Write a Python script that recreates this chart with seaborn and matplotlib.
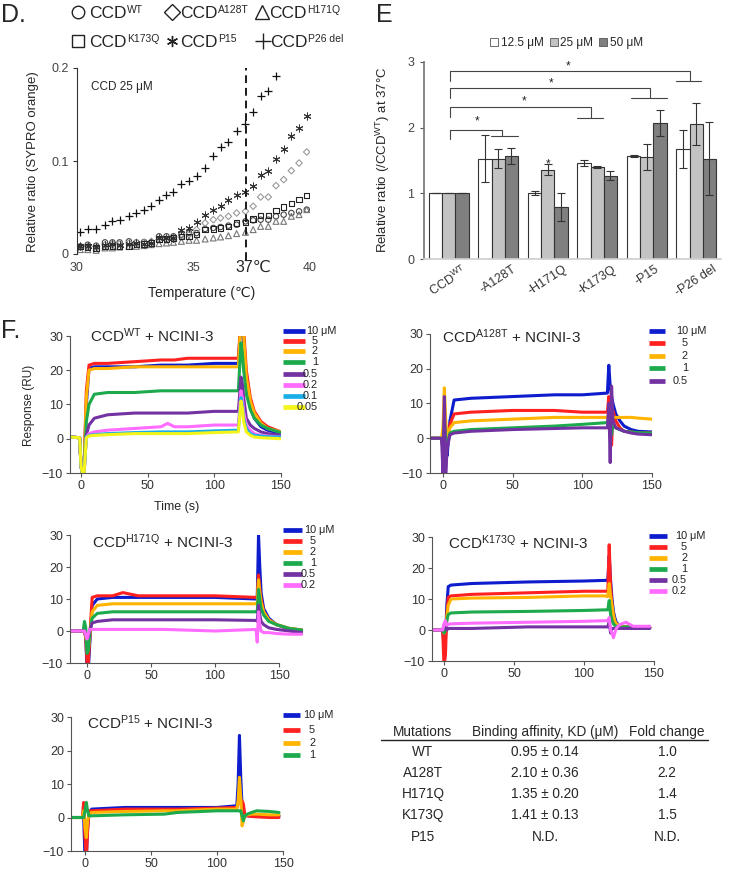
import numpy as np
import pandas as pd
import matplotlib
matplotlib.use("Agg")
import matplotlib.pyplot as plt
from matplotlib.lines import Line2D
from matplotlib.patches import Patch
import seaborn as sns

sns.set_theme(style="white")
plt.rcParams['font.family'] = ['Liberation Sans', 'DejaVu Sans']
plt.rcParams['mathtext.fontset'] = 'custom'
plt.rcParams['mathtext.rm'] = 'Liberation Sans'
plt.rcParams['mathtext.it'] = 'Liberation Sans:italic'
plt.rcParams['mathtext.bf'] = 'Liberation Sans:bold'

# ---------------- panel D : thermal shift (SYPRO orange) ----------------
temps = [30.14, 30.46, 30.82, 31.2, 31.52, 31.83, 32.23, 32.55, 32.88, 33.19,
         33.52, 33.84, 34.14, 34.48, 34.81, 35.13, 35.5, 35.85, 36.16, 36.5,
         36.85, 37.23, 37.56, 37.88, 38.21, 38.54, 38.87, 39.2, 39.53, 39.86]
d_wt = [0.0082, 0.01, 0.009, 0.0125, 0.0125, 0.0125, 0.0136, 0.0125, 0.0129, 0.0129,
        0.019, 0.019, 0.019, 0.0208, 0.0226, 0.0226, 0.0269, 0.028, 0.029, 0.0305,
        0.0315, 0.0351, 0.0362, 0.0369, 0.0369, 0.0405, 0.0423, 0.0441, 0.0459, 0.0477]
d_a128t = [0.0075, 0.0082, 0.0082, 0.01, 0.0108, 0.0108, 0.0118, 0.0125, 0.0125, 0.0136,
           0.0154, 0.0154, 0.0161, 0.0183, 0.0208, 0.0262, 0.0333, 0.0369, 0.0387, 0.0405,
           0.0441, 0.0459, 0.0513, 0.0613, 0.0613, 0.0735, 0.08, 0.0896, 0.0978, 0.1097]
d_h171q = [0.0047, 0.0047, 0.0039, 0.0065, 0.0065, 0.0075, 0.0082, 0.0082, 0.009, 0.01,
           0.0111, 0.0118, 0.0125, 0.0136, 0.0147, 0.0147, 0.0161, 0.0172, 0.0183, 0.0197,
           0.0219, 0.0233, 0.0262, 0.0297, 0.0297, 0.0351, 0.0351, 0.0405, 0.0423, 0.0477]
d_k173q = [0.0082, 0.0075, 0.0065, 0.0082, 0.0082, 0.0082, 0.0082, 0.01, 0.0108, 0.0118,
           0.0161, 0.0161, 0.0172, 0.019, 0.019, 0.0208, 0.0262, 0.0269, 0.028, 0.0297,
           0.0333, 0.034, 0.0376, 0.0412, 0.0412, 0.047, 0.0505, 0.0541, 0.0584, 0.0627]
d_p15 = [0.0082, 0.009, 0.0075, 0.01, 0.0108, 0.01, 0.0108, 0.0118, 0.0108, 0.0118,
         0.0172, 0.0168, 0.0172, 0.0262, 0.028, 0.034, 0.0423, 0.0477, 0.0513, 0.0584,
         0.0638, 0.0663, 0.0728, 0.0853, 0.0889, 0.1025, 0.1133, 0.1265, 0.1355, 0.148]
d_p26del = [0.0237, 0.0269, 0.0269, 0.0315, 0.0358, 0.0369, 0.0412, 0.0441, 0.0477, 0.0513,
            0.0584, 0.0638, 0.0667, 0.0756, 0.0781, 0.0835, 0.0925, 0.105, 0.1147, 0.1204,
            0.1319, 0.1401, 0.1523, 0.1695, 0.1749, 0.191]
d_line_temp = 37.25

# ---------------- panel E : ratio at 37 C ----------------
e_groups = ['CCD$^{\\mathrm{WT}}$', '-A128T', '-H171Q', '-K173Q', '-P15', '-P26 del']
e_conc = ['12.5 μM', '25 μM', '50 μM']
e_mean_125 = [1.0, 1.53, 1.0, 1.46, 1.57, 1.67]
e_mean_25 = [1.0, 1.53, 1.36, 1.40, 1.55, 2.05]
e_mean_50 = [1.0, 1.57, 0.79, 1.27, 2.07, 1.53]
e_err_125 = [0, 0.36, 0.03, 0.05, 0.01, 0.29]
e_err_25 = [0, 0.14, 0.08, 0.01, 0.20, 0.32]
e_err_50 = [0, 0.12, 0.21, 0.07, 0.20, 0.56]

# ---------------- panel F : SPR sensorgrams ----------------
spr_labels = ['10', '5', '2', '1', '0.5', '0.2', '0.1', '0.05']
spr_colors = ['#0d1ccc', '#ff2020', '#ffb400', '#1caa4c', '#7232a2', '#ff6cff', '#1aaee8', '#f4f41a']

t_wt = [-8, -1, 0, 2, 4, 6, 10, 20, 40, 60, 65, 70, 80, 100, 118, 120, 121, 122, 124, 127, 130, 135, 140, 150]
r_wt = [
    [0.5, 0.3, -8, -12, 10, 20.5, 21, 21, 21, 21.5, 21.5, 21.5, 21.5, 22, 22, 35, 35, 28, 16, 9, 6, 3.5, 2.5, 1.5],
    [0.5, 0.3, -8, -12, 14, 21.5, 22, 22, 22.5, 23, 23, 23, 23.5, 23.5, 23.5, 35, 35, 32, 20, 12, 8, 5, 3.5, 2],
    [0.5, 0.3, -8, -12, 12, 20, 20.5, 20.5, 21, 21, 21, 21, 21, 21, 21, 35, 35, 30, 18, 11, 7.5, 4.5, 3, 2],
    [0.5, 0.3, -8, -12, 5, 10, 13, 13.5, 13.5, 14, 14, 14, 14, 14, 14, 28, 25, 20, 13, 8.5, 6, 4, 3, 1.8],
    [0.5, 0.3, -8, -12, 1, 4, 6, 7, 7.5, 7.5, 7.5, 7.5, 7.5, 8, 8, 18, 16, 12, 6, 4, 3, 2, 1.5, 1],
    [0.5, 0.3, -8, -12, 0.5, 1.5, 2, 2.5, 3, 3.5, 4.5, 3.5, 3.5, 4, 4, 14, 12, 8, 4, 2.5, 1.5, 1, 0.8, 0.5],
    [0.5, 0.3, -8, -12, 0.5, 1, 1.2, 1.5, 1.8, 2, 2, 2, 2, 2.3, 2.5, 12, 10, 6, 3, 1.5, 1, 0.8, 0.6, 0.5],
    [0.5, 0.3, -8, -12, 0.3, 0.8, 1, 1.2, 1.5, 1.5, 1.5, 1.5, 1.5, 1.8, 2, 11, 9, 5, 2, 1, 0.5, 0.3, 0.2, 0],
]
t_a128t = [-9, -1, 0, 1, 2, 3, 5, 8, 20, 50, 80, 100, 118, 119, 120, 121, 122, 124, 127, 130, 135, 140, 150]
r_a128t = [
    [0, 0, -3, 2, -2, -5, 5, 11, 11.5, 12, 12.5, 12.5, 13, 21, 15, 12, 10, 7, 5, 3.5, 2.5, 2, 1.8],
    [0, 0, -3, 3, 2, 0, 4, 7, 7.5, 8, 8, 7.5, 7.5, 12, 5, -2, 8, 5, 3, 2, 1.8, 1.6, 1.5],
    [0, 0, 3, 14.5, 5, 0, 3, 4.5, 5, 5.5, 6, 6, 6, 7, 5, 4, 6, 6, 6, 6, 6, 5.8, 5.5],
    [0, 0, -3, 5, 0, -2, 1.5, 2, 2.5, 3, 3.5, 4, 4.5, 6, 3, 1, 4, 3, 2.5, 2, 1.8, 1.6, 1.5],
    [0, 0, -10, 12, -10, -3, 1, 1.5, 2, 2.5, 2.8, 3, 3, 10, -7, 15, 5, 3, 2.5, 2, 1.5, 1.2, 1],
]
t_h171q = [-12, -3, -2, -1, 0, 1, 2, 4, 8, 20, 28, 40, 60, 100, 132, 133, 134, 135, 136, 138, 142, 148, 158, 168]
r_h171q = [
    [0, 0, 0, -2, -12, -12, -5, 8, 10, 10.5, 10.5, 10.5, 10.5, 10.5, 10, 10, 30, 20, 12, 7, 4, 2, 0.5, 0],
    [0, 0, 0, -2, -10, -10, -3, 10.5, 11, 11, 12, 11, 11, 11, 10.5, 10.5, 17.5, 13, 10, 6, 3.5, 2, 0.8, 0.3],
    [0, 0, 0, -1, -5, -6, -2, 6, 8, 8.5, 8.5, 8.5, 8.5, 8.5, 8.5, 8.5, 16, 12, 9, 6, 3.5, 2, 0.8, 0.3],
    [0, 0, 3, 1, -7, -6, -1, 4, 5.5, 6, 6, 6, 6, 6, 6, 6, 13, 10, 7, 5, 3, 2, 0.8, 0.3],
    [0, 0, 0, -1, -2, -2, 0, 2.5, 3, 3.5, 3.5, 3.5, 3.5, 3.5, 3.3, 3, 8, 5, 3, 2, 1, 0.5, 0, -0.5],
    [0, 0, 0, -1, -2.5, -1, 0.5, 0.5, 0.5, 0.5, 0.5, 0.5, 0.5, 0, 0.5, -3.5, 6, 2, 0, -0.5, -0.5, -0.8, -1, -1],
]
t_k173q = [-9, -2, -1, 0, 1, 2, 3, 5, 20, 60, 100, 115, 117, 118, 119, 120, 121, 122, 123, 125, 127, 130, 135, 147]
r_k173q = [
    [0, 0, 0, -5, -3, 8, 14, 14.5, 15, 15.5, 15.8, 16, 16, 24, 16, 10, 6, 4, 2.5, 1.5, 1.2, 1, 1, 0.8],
    [0, 0, 0, -12, -8, 5, 10.5, 11, 11.5, 12, 12.5, 12.5, 12.5, 27.5, 14, 8, 4, 2.5, 1.8, 1.5, 1.2, 1, 1, 0.8],
    [0, 0, 0, -1, 0, 4, 8, 10, 10.3, 10.5, 11, 11, 10.8, 15, 11, 8, 5, 3, 2, 1.5, 1.2, 1, 1, 0.8],
    [0, 0, 0, -1, 0, 3, 5, 5.5, 5.8, 6, 6.3, 6.5, 6.5, 9.5, 5, 3, 2, 1.5, 1.2, 1, 1, 1, 1, 0.8],
    [0, 0, 0, 1.5, 2, 0, 0.5, 0.5, 0.5, 1, 1, 1, 1, 2.5, -1, 0.5, 0.5, 0.5, 0.5, 0.5, 0.5, 0.5, 0.5, 0.5],
    [0, 0, 0, 2, 3, 1.5, 1.8, 2, 2.2, 2.5, 2.8, 3, 3, 4, 0, -1, -2.5, -1, 0.5, 1.5, 2, 2.5, 1.2, 1.2],
]
t_p15 = [-10, -2, -1, 0, 1, 2, 3, 5, 30, 60, 70, 100, 115, 116, 117, 118, 119, 120, 121, 123, 126, 130, 140, 147]
r_p15 = [
    [0, 0, 0, -12, -12, -3, 1, 2.5, 3, 3, 3, 3, 3.5, 10, 24.5, 12, 3, 1, 0.5, 0.5, 0.5, 0.5, 0.5, 0.5],
    [0, 0, 4.5, -6, -12, -4, 2, 2, 2.5, 2.5, 2.5, 2.8, 3, 4, 8, 5, 5, 4, 1, 0.5, 0.3, 0.2, 0, 0],
    [0, 0, 2, -3, -6, -1, 1, 1.5, 1.8, 2, 2, 2.5, 2.5, 5, 12, 6, -2.5, -1, 0.5, 0.8, 1, 1, 0.8, 0.8],
    [0, 0, 0, 2, 4.5, 2, 0.5, 0.5, 0.8, 1, 1.5, 2, 2, 2, 2, 2, 0.5, -1, 0.5, 1, 1.5, 2, 1.8, 1.5],
]

# ---------------- table ----------------
tab_mut = ['WT', 'A128T', 'H171Q', 'K173Q', 'P15']
tab_kd = [0.95, 2.10, 1.35, 1.41, None]
tab_kd_err = [0.14, 0.36, 0.20, 0.13, None]
tab_fold = [1.0, 2.2, 1.4, 1.5, None]

W, H = 729, 871
fig = plt.figure(figsize=(W / 100, H / 100), dpi=100)


def box(l, t, r, b):
    return [l / W, 1 - b / H, (r - l) / W, (b - t) / H]


def ftext(x, y, s, **kw):
    return fig.text(x / W, 1 - y / H, s, **kw)


def fline(xs, ys, **kw):
    fig.add_artist(Line2D([x / W for x in xs], [1 - y / H for y in ys], **kw))


renderer = fig.canvas.get_renderer()


def sup_text(x, y, base, sup, size, sup_size, rise):
    # base text followed by a small raised label (superscript)
    t = ftext(x, y, base, fontsize=size, va='baseline')
    bb = t.get_window_extent(renderer)
    ftext(bb.x1 * W / fig.bbox.width + 0.5, y - rise, sup, fontsize=sup_size, va='baseline')


# ======================= D =======================
axD = fig.add_axes(box(77, 68, 310, 254))
sns.scatterplot(x=temps, y=d_wt, marker='o', s=15, facecolor='none', edgecolor='#444444', linewidth=0.8, ax=axD)
sns.scatterplot(x=temps, y=d_a128t, marker='D', s=11, facecolor='none', edgecolor='#9a9a9a', linewidth=0.8, ax=axD)
sns.scatterplot(x=temps, y=d_h171q, marker='^', s=18, facecolor='none', edgecolor='#777777', linewidth=0.8, ax=axD)
sns.scatterplot(x=temps, y=d_k173q, marker='s', s=15, facecolor='none', edgecolor='#222222', linewidth=0.8, ax=axD)
sns.scatterplot(x=temps, y=d_p15, marker=(6, 2, 0), s=26, color='#333333', linewidth=0.7, ax=axD)
sns.scatterplot(x=temps[:len(d_p26del)], y=d_p26del, marker='+', s=30, color='#111111', linewidth=0.9, ax=axD)
axD.axvline(d_line_temp, color='k', ls=(0, (4, 2.5)), lw=1.4, ymin=-0.03, clip_on=False)
axD.set_xlim(30, 40)
axD.set_ylim(0, 0.2)
axD.set_xticks([30, 35, 40])
axD.set_yticks([0, 0.1, 0.2])
axD.set_yticklabels(['0', '0.1', '0.2'])
axD.tick_params(axis='x', length=0, pad=6, labelsize=9, labelcolor='#444444')
axD.tick_params(axis='y', direction='out', length=3, width=0.8, color='#333333', pad=3, labelsize=9, labelcolor='#444444', left=True)
for s in ['top', 'right', 'bottom']:
    axD.spines[s].set_visible(False)
axD.spines['left'].set_color('#333333')
axD.spines['left'].set_linewidth(0.8)
axD.set_xlabel('')
axD.set_ylabel('')
axD.text(0.06, 0.9, 'CCD 25 μM', transform=axD.transAxes, fontsize=8.5, va='center')
ftext(253, 267, '37℃', fontsize=11.5, ha='center', va='center')
ftext(33, 162, 'Relative ratio (SYPRO orange)', fontsize=9.5, rotation=90, ha='center', va='center')
ftext(202, 293, 'Temperature (℃)', fontsize=10, ha='center', va='center')
ftext(1, 22, 'D.', fontsize=18, va='baseline')

# legend of D
d_leg = [(78, 12, 'o', 9, 'WT', 89),
         (172, 12, 'D', 8, 'A128T', 180),
         (262, 12, '^', 10, 'H171Q', 269),
         (78, 41, 's', 9, 'K173Q', 89),
         (172, 41, (6, 2, 0), 8, 'P15', 180),
         (263, 41, '+', 12, 'P26 del', 270)]
for mx, my, mk, ms, lab, tx in d_leg:
    fline([mx], [my], marker=mk, markersize=ms, markerfacecolor='none', markeredgecolor='#222222',
          markeredgewidth=1.0, color='#222222', lw=0)
    sup_text(tx, my + 6, 'CCD', lab, 12.5, 7.5, 5)

# ======================= E =======================
axE = fig.add_axes(box(424, 62, 721, 259))
e_df = pd.DataFrame({
    'group': e_groups * 3,
    'conc': [c for c in e_conc for _ in e_groups],
    'ratio': e_mean_125 + e_mean_25 + e_mean_50,
    'err': e_err_125 + e_err_25 + e_err_50,
})
e_colors = ['#ffffff', '#c3c3c3', '#808080']
sns.barplot(data=e_df, x='group', y='ratio', hue='conc', palette=e_colors, errorbar=None,
            edgecolor='#333333', linewidth=0.8, width=0.8, legend=False, ax=axE)
for i, c in enumerate(e_conc):
    sub = e_df[e_df['conc'] == c]
    xs = np.arange(len(e_groups)) + (i - 1) * 0.8 / 3
    axE.errorbar(xs, sub['ratio'], yerr=sub['err'], fmt='none', ecolor='#333333',
                 elinewidth=0.8, capsize=3, capthick=0.8)
axE.set_xlim(-0.5, 5.5)
axE.set_ylim(0, 3)
axE.set_yticks([0, 1, 2, 3])
axE.set_xlabel('')
axE.set_ylabel('')
axE.tick_params(axis='y', direction='out', length=3, width=0.8, color='#555555', pad=4, labelsize=9, labelcolor='#444444', left=True)
axE.tick_params(axis='x', length=0, pad=3, labelsize=9, labelcolor='#333333')
plt.setp(axE.get_xticklabels(), rotation=33, ha='center')
for s in ['top', 'right']:
    axE.spines[s].set_visible(False)
axE.spines['left'].set_color('#777777')
axE.spines['bottom'].set_color('#d0d0d0')

# significance brackets
br_color = '#444444'
brackets = [(1.08, 1.97, 1.87, 0.85, 1.40, 0.58, 2.10),
            (2.88, 2.32, 2.15, 2.60, 3.11, 1.52, 2.40),
            (4.07, 2.60, 2.45, 3.69, 4.41, 2.07, 2.68),
            (4.87, 2.86, 2.71, 4.60, 5.09, 2.42, 2.94)]
for xr, ytop, ybot, x0, x1, sx, sy in brackets:
    axE.plot([0.02, 0.02, xr, xr], [ytop - 0.15, ytop, ytop, ybot], color=br_color, lw=0.8)
    axE.plot([x0, x1], [ybot, ybot], color=br_color, lw=0.8)
    axE.text(sx, sy, '*', fontsize=8.5, ha='center', va='center', color='#222222')
axE.text(2.0, 1.44, '*', fontsize=8.5, ha='center', va='center', color='#222222')
axE.legend(handles=[Patch(facecolor=c, edgecolor='#555555', lw=0.6) for c in e_colors], labels=e_conc,
           ncol=3, frameon=False, loc='center', bbox_to_anchor=(0.48, 1.095), fontsize=8.5,
           handlelength=0.7, handleheight=0.7, handletextpad=0.2, columnspacing=0.5, borderpad=0)
ftext(383, 160, 'Relative ratio (/CCD$^{\\mathrm{WT}}$) at 37°C', fontsize=9.5, rotation=90, ha='center', va='center')
ftext(376, 22, 'E', fontsize=18, va='baseline')


# ======================= F =======================
def sensorgram(rect, t, resp, xlim, title, title_xy, leg):
    ax = fig.add_axes(box(*rect))
    for i, vals in enumerate(resp):
        sns.lineplot(x=t, y=vals, color=spr_colors[i], lw=2.2, ax=ax)
    ax.set_xlim(*xlim)
    ax.set_ylim(-10, 30)
    ax.set_xticks([0, 50, 100, 150])
    ax.set_yticks([-10, 0, 10, 20, 30])
    ax.spines['bottom'].set_bounds(xlim[0], 150)
    for s in ['top', 'right']:
        ax.spines[s].set_visible(False)
    for s in ['left', 'bottom']:
        ax.spines[s].set_color('#555555')
        ax.spines[s].set_linewidth(0.8)
    ax.tick_params(direction='out', length=3, width=0.8, color='#555555', labelsize=9,
                   labelcolor='#333333', left=True, bottom=True, pad=2)
    ax.set_xlabel('')
    ax.set_ylabel('')
    ftext(title_xy[0], title_xy[1], title, fontsize=11, va='center')
    x0, x1, xr, ys = leg
    for i, y in enumerate(ys):
        fline([x0, x1], [y, y], color=spr_colors[i], lw=3.4, solid_capstyle='butt')
        ftext(xr, y, spr_labels[i], fontsize=7.8, ha='right', va='center', color='#222222')
    ftext(xr, ys[0], ' μM', fontsize=7.8, ha='left', va='center', color='#222222')
    return ax


sensorgram((70, 336, 281, 473), t_wt, r_wt, (-8.25, 150), 'CCD$^{\\mathrm{WT}}$ + NCINI-3', (90, 336),
           (283, 305, 318, [331, 341, 351, 362, 374, 385, 396, 407]))
sensorgram((430, 334, 652, 473), t_a128t, r_a128t, (-9.3, 150), 'CCD$^{\\mathrm{A128T}}$ + NCINI-3', (442, 337),
           (649, 665, 688, [331, 343, 356, 368, 381]))
sensorgram((70, 535, 303, 663), t_h171q, r_h171q, (-13.3, 168.75), 'CCD$^{\\mathrm{H171Q}}$ + NCINI-3', (92, 542),
           (283, 302, 316, [530, 541, 552, 563, 574, 585]))
sensorgram((432, 537, 654, 661), t_k173q, r_k173q, (-8.6, 150), 'CCD$^{\\mathrm{K173Q}}$ + NCINI-3', (448, 543),
           (649, 667, 687, [536, 547, 558, 569, 580, 591]))
sensorgram((71, 717, 283, 851), t_p15, r_p15, (-10.6, 150), 'CCD$^{\\mathrm{P15}}$ + NCINI-3', (87, 723),
           (283, 300, 315, [715, 730, 743, 755]))

ftext(29, 405, 'Response (RU)', fontsize=8.5, rotation=90, ha='center', va='center')
ftext(177, 507, 'Time (s)', fontsize=9, ha='center', va='center')
ftext(1, 338, 'F.', fontsize=18, va='baseline')

# ======================= table =======================
ftext(423, 732, 'Mutations', fontsize=9.8, ha='center', va='center')
ftext(545, 732, 'Binding affinity, KD (μM)', fontsize=9.8, ha='center', va='center')
ftext(667, 732, 'Fold change', fontsize=9.8, ha='center', va='center')
fline([381, 708], [740, 740], color='#222222', lw=1.0)
row_y = [752, 773, 794, 815, 837]
for y, m, kd, err, fold in zip(row_y, tab_mut, tab_kd, tab_kd_err, tab_fold):
    ftext(423, y, m, fontsize=9.8, ha='center', va='center')
    ftext(545, y, 'N.D.' if kd is None else f'{kd:.2f} ± {err:.2f}', fontsize=9.8, ha='center', va='center')
    ftext(667, y, 'N.D.' if fold is None else f'{fold:.1f}', fontsize=9.8, ha='center', va='center')

fig.savefig('out.png', dpi=100)
